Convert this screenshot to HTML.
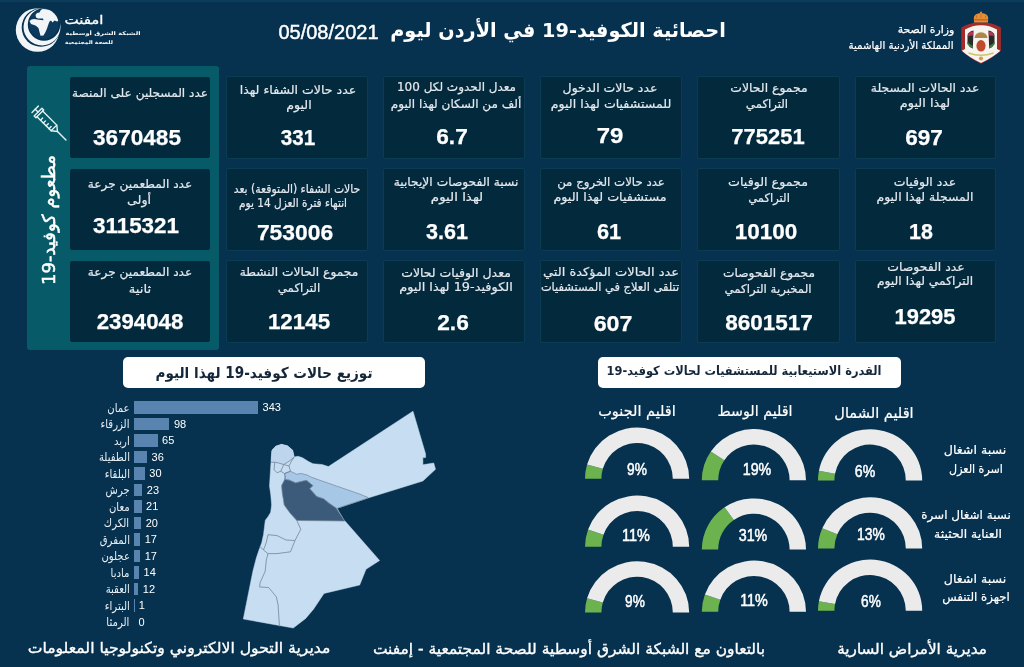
<!DOCTYPE html>
<html lang="ar"><head><meta charset="utf-8"><title>COVID-19 Jordan</title>
<style>
*{margin:0;padding:0;box-sizing:border-box}
html,body{width:1024px;height:667px;overflow:hidden;background:#063250}
body{position:relative;font-family:'DejaVu Sans', sans-serif}
.t{position:absolute;white-space:nowrap;line-height:1;transform-origin:50% 50%}
.card{position:absolute;background:#03293d;border:1px solid #0c3c52;border-radius:2px}
.abs{position:absolute}
</style></head><body>

<div class="abs" style="left:0;top:0;width:1024px;height:2px;background:#0b3c5c"></div>
<div class="abs" style="left:27px;top:66px;width:192px;height:284px;background:#075b68;border-radius:3px"></div>
<div class="card" style="left:69.5px;top:77px;width:140.5px;height:81px;border-color:#03293d"></div>
<div class="card" style="left:225.5px;top:76px;width:142.5px;height:83px"></div>
<div class="card" style="left:383px;top:76px;width:142px;height:83px"></div>
<div class="card" style="left:540px;top:76px;width:141.5px;height:83px"></div>
<div class="card" style="left:697px;top:76px;width:142.5px;height:83px"></div>
<div class="card" style="left:854.5px;top:76px;width:141.5px;height:83px"></div>
<div class="card" style="left:69.5px;top:169px;width:140.5px;height:81px;border-color:#03293d"></div>
<div class="card" style="left:225.5px;top:168px;width:142.5px;height:83px"></div>
<div class="card" style="left:383px;top:168px;width:142px;height:83px"></div>
<div class="card" style="left:540px;top:168px;width:141.5px;height:83px"></div>
<div class="card" style="left:697px;top:168px;width:142.5px;height:83px"></div>
<div class="card" style="left:854.5px;top:168px;width:141.5px;height:83px"></div>
<div class="card" style="left:69.5px;top:261px;width:140.5px;height:81px;border-color:#03293d"></div>
<div class="card" style="left:225.5px;top:260px;width:142.5px;height:83px"></div>
<div class="card" style="left:383px;top:260px;width:142px;height:83px"></div>
<div class="card" style="left:540px;top:260px;width:141.5px;height:83px"></div>
<div class="card" style="left:697px;top:260px;width:142.5px;height:83px"></div>
<div class="card" style="left:854.5px;top:260px;width:141.5px;height:83px"></div>
<svg class="abs" style="left:29px;top:102.6px;overflow:visible" width="40" height="40" viewBox="0 0 40 40" fill="none" stroke="#e6f3f5" stroke-width="1.4" stroke-linecap="round" stroke-linejoin="round">
<g transform="rotate(-45 20 20)">
<line x1="15.5" y1="0.5" x2="24.5" y2="0.5"/><line x1="20" y1="0.5" x2="20" y2="4.5"/>
<path d="M14.5 4.5 H25.5 V7 H14.5 Z"/>
<path d="M16 7 V27 H24 V7"/>
<line x1="16" y1="12" x2="19" y2="12"/><line x1="16" y1="16" x2="19" y2="16"/><line x1="16" y1="20" x2="19" y2="20"/><line x1="16" y1="24" x2="19" y2="24"/>
<path d="M16 27 L20 32 L24 27"/><line x1="20" y1="32" x2="20" y2="44"/>
</g></svg>
<div class="t" id="vert" dir="rtl" style="left:48.5px;top:220px;font-size:18px;font-weight:normal;-webkit-text-stroke:0.5px #fff;color:#fff;transform:translate(-50%,-50%) rotate(-90deg) scaleX(1)">مطعوم كوفيد-19</div>
<div class="abs" style="left:123px;top:357px;width:302px;height:31px;background:#fff;border-radius:5px"></div>
<div class="abs" style="left:598px;top:357px;width:303px;height:31px;background:#fff;border-radius:5px"></div>
<div class="abs" style="left:134px;top:401.00px;width:124.10px;height:12.8px;background:#5a84b0"></div>
<div class="t" dir="rtl" style="right:894.5px;top:401.50px;font-size:12px;color:#e8eef4;font-family:'DejaVu Sans', sans-serif;transform-origin:100% 50%;transform:scaleX(0.84)">عمان</div>
<div class="t" style="left:262.60px;top:402.40px;font-size:11px;color:#ffffff;font-family:'Liberation Sans', 'DejaVu Sans', sans-serif">343</div>
<div class="abs" style="left:134px;top:417.50px;width:35.46px;height:12.8px;background:#5a84b0"></div>
<div class="t" dir="rtl" style="right:894.5px;top:418.00px;font-size:12px;color:#e8eef4;font-family:'DejaVu Sans', sans-serif;transform-origin:100% 50%;transform:scaleX(0.84)">الزرقاء</div>
<div class="t" style="left:173.96px;top:418.90px;font-size:11px;color:#ffffff;font-family:'Liberation Sans', 'DejaVu Sans', sans-serif">98</div>
<div class="abs" style="left:134px;top:434.00px;width:23.52px;height:12.8px;background:#5a84b0"></div>
<div class="t" dir="rtl" style="right:894.5px;top:434.50px;font-size:12px;color:#e8eef4;font-family:'DejaVu Sans', sans-serif;transform-origin:100% 50%;transform:scaleX(0.84)">اربد</div>
<div class="t" style="left:162.02px;top:435.40px;font-size:11px;color:#ffffff;font-family:'Liberation Sans', 'DejaVu Sans', sans-serif">65</div>
<div class="abs" style="left:134px;top:450.50px;width:13.03px;height:12.8px;background:#5a84b0"></div>
<div class="t" dir="rtl" style="right:894.5px;top:451.00px;font-size:12px;color:#e8eef4;font-family:'DejaVu Sans', sans-serif;transform-origin:100% 50%;transform:scaleX(0.84)">الطفيلة</div>
<div class="t" style="left:151.53px;top:451.90px;font-size:11px;color:#ffffff;font-family:'Liberation Sans', 'DejaVu Sans', sans-serif">36</div>
<div class="abs" style="left:134px;top:467.00px;width:10.85px;height:12.8px;background:#5a84b0"></div>
<div class="t" dir="rtl" style="right:894.5px;top:467.50px;font-size:12px;color:#e8eef4;font-family:'DejaVu Sans', sans-serif;transform-origin:100% 50%;transform:scaleX(0.84)">البلقاء</div>
<div class="t" style="left:149.35px;top:468.40px;font-size:11px;color:#ffffff;font-family:'Liberation Sans', 'DejaVu Sans', sans-serif">30</div>
<div class="abs" style="left:134px;top:483.50px;width:8.32px;height:12.8px;background:#5a84b0"></div>
<div class="t" dir="rtl" style="right:894.5px;top:484.00px;font-size:12px;color:#e8eef4;font-family:'DejaVu Sans', sans-serif;transform-origin:100% 50%;transform:scaleX(0.84)">جرش</div>
<div class="t" style="left:146.82px;top:484.90px;font-size:11px;color:#ffffff;font-family:'Liberation Sans', 'DejaVu Sans', sans-serif">23</div>
<div class="abs" style="left:134px;top:500.00px;width:7.60px;height:12.8px;background:#5a84b0"></div>
<div class="t" dir="rtl" style="right:894.5px;top:500.50px;font-size:12px;color:#e8eef4;font-family:'DejaVu Sans', sans-serif;transform-origin:100% 50%;transform:scaleX(0.84)">معان</div>
<div class="t" style="left:146.10px;top:501.40px;font-size:11px;color:#ffffff;font-family:'Liberation Sans', 'DejaVu Sans', sans-serif">21</div>
<div class="abs" style="left:134px;top:516.50px;width:7.24px;height:12.8px;background:#5a84b0"></div>
<div class="t" dir="rtl" style="right:894.5px;top:517.00px;font-size:12px;color:#e8eef4;font-family:'DejaVu Sans', sans-serif;transform-origin:100% 50%;transform:scaleX(0.84)">الكرك</div>
<div class="t" style="left:145.74px;top:517.90px;font-size:11px;color:#ffffff;font-family:'Liberation Sans', 'DejaVu Sans', sans-serif">20</div>
<div class="abs" style="left:134px;top:533.00px;width:6.15px;height:12.8px;background:#5a84b0"></div>
<div class="t" dir="rtl" style="right:894.5px;top:533.50px;font-size:12px;color:#e8eef4;font-family:'DejaVu Sans', sans-serif;transform-origin:100% 50%;transform:scaleX(0.84)">المفرق</div>
<div class="t" style="left:144.65px;top:534.40px;font-size:11px;color:#ffffff;font-family:'Liberation Sans', 'DejaVu Sans', sans-serif">17</div>
<div class="abs" style="left:134px;top:549.50px;width:6.15px;height:12.8px;background:#5a84b0"></div>
<div class="t" dir="rtl" style="right:894.5px;top:550.00px;font-size:12px;color:#e8eef4;font-family:'DejaVu Sans', sans-serif;transform-origin:100% 50%;transform:scaleX(0.84)">عجلون</div>
<div class="t" style="left:144.65px;top:550.90px;font-size:11px;color:#ffffff;font-family:'Liberation Sans', 'DejaVu Sans', sans-serif">17</div>
<div class="abs" style="left:134px;top:566.00px;width:5.07px;height:12.8px;background:#5a84b0"></div>
<div class="t" dir="rtl" style="right:894.5px;top:566.50px;font-size:12px;color:#e8eef4;font-family:'DejaVu Sans', sans-serif;transform-origin:100% 50%;transform:scaleX(0.84)">مادبا</div>
<div class="t" style="left:143.57px;top:567.40px;font-size:11px;color:#ffffff;font-family:'Liberation Sans', 'DejaVu Sans', sans-serif">14</div>
<div class="abs" style="left:134px;top:582.50px;width:4.34px;height:12.8px;background:#5a84b0"></div>
<div class="t" dir="rtl" style="right:894.5px;top:583.00px;font-size:12px;color:#e8eef4;font-family:'DejaVu Sans', sans-serif;transform-origin:100% 50%;transform:scaleX(0.84)">العقبة</div>
<div class="t" style="left:142.84px;top:583.90px;font-size:11px;color:#ffffff;font-family:'Liberation Sans', 'DejaVu Sans', sans-serif">12</div>
<div class="abs" style="left:134px;top:599.00px;width:1.00px;height:12.8px;background:#5a84b0"></div>
<div class="t" dir="rtl" style="right:894.5px;top:599.50px;font-size:12px;color:#e8eef4;font-family:'DejaVu Sans', sans-serif;transform-origin:100% 50%;transform:scaleX(0.84)">البتراء</div>
<div class="t" style="left:138.86px;top:600.40px;font-size:11px;color:#ffffff;font-family:'Liberation Sans', 'DejaVu Sans', sans-serif">1</div>
<div class="t" dir="rtl" style="right:894.5px;top:616.00px;font-size:12px;color:#e8eef4;font-family:'DejaVu Sans', sans-serif;transform-origin:100% 50%;transform:scaleX(0.84)">الرمثا</div>
<div class="t" style="left:138.50px;top:616.90px;font-size:11px;color:#ffffff;font-family:'Liberation Sans', 'DejaVu Sans', sans-serif">0</div>
<svg class="abs" style="left:0;top:0" width="1024" height="667" viewBox="0 0 1024 667">
<polygon points="413,411.2 425.6,454 425.6,457.6 422.9,457.6 422.9,464.8 433.7,463 435.5,469.3 422.9,481 368,498 337,508.3 344,520 345,521 379.6,560.5 366,569.3 359.7,585 324,593.4 313.5,609.2 305.7,618.4 293.3,628 243.3,619 246.1,605 249.5,588.1 252.9,571.2 254.5,565 256.3,558 259,550 261.7,542.8 263.5,534.7 264.4,527.5 265.3,520.3 268,516.7 270.7,512.2 271.6,505 270.8,495 269.5,486 270.25,473.5 271,462.25 271.75,451 272.5,449.5 276,446 281.5,444.25 287.5,445.75 292.75,450.25 294.25,457 298,456.25 302.5,457.75 308.5,461.5 313,463.75 322,464.5 328.4,466.6" fill="#c7ddf1" stroke="#c7ddf1" stroke-width="0.5"/>
<polygon points="271.75,451 272.5,449.5 276,446 281.5,444.25 287.5,445.75 292.75,450.25 294.25,457 289.75,460.75 283.75,464.5 278.5,463 274.75,462.25 271,462.25" fill="#bdd6ee"/>
<polygon points="284.5,473.5 290.5,471.25 296.5,474.25 301,473.5 307,475 311.5,477.25 322,481 360,494.2 368,497.5 368,498 337,508.3 336.25,508.3 328.4,502.8 323.75,498.9 316.7,496.6 309.7,488.75 312.8,485.6 306.6,480.5 303.4,481 295.6,482.9 289.4,480.2 284.7,479.4 285.25,477" fill="#a7c7e6" stroke="#74859a" stroke-width="0.7"/>
<polygon points="284.7,479.4 289.4,480.2 295.6,482.9 303.4,481 306.6,480.5 312.8,485.6 309.7,488.75 316.7,496.6 323.75,498.9 328.4,502.8 336.25,508.3 344,520 345,521 296.8,520.5 290,513 284.2,505 283.1,498 282.3,493.4 281.6,485.6" fill="#3c5a79" stroke="#74859a" stroke-width="0.7"/>
<g fill="none" stroke="#74859a" stroke-width="0.8">
<polyline points="294.25,457 289.75,460.75 283.75,464.5 278.5,463 274.75,462.25 271,462.25"/>
<polyline points="274.75,462.25 274,469.75 277,472.75 280.75,471.25 283.75,464.5"/>
<polyline points="283.75,464.5 289,466 290.5,471.25 284.5,473.5 280.75,471.25"/>
<polyline points="294.25,457 291,462 289,466"/>
<polyline points="284.5,473.5 285.25,477 284.7,479.4"/>
<polyline points="268,534.7 277,535.6 286,540 295,540.5"/>
<polyline points="296.8,520.5 300.8,529.3 295,540.5 290.5,551.8 277,553.6 268,553.6 263.5,550 259.9,546.4"/>
<polyline points="268,534.7 266.2,542.8 263.5,550"/>
<polyline points="268,553.6 267.1,557 266.3,560 265.2,571.2 260.2,582.5 259.6,587 268.6,587.5 272,591.5 276.4,597 278.1,605 279.3,624 279.5,626.5"/>
</g></svg>
<svg class="abs" style="left:0;top:0" width="1024" height="667" viewBox="0 0 1024 667"><path d="M585.00,478.80 A52.1,51.2 0 0 1 587.07,464.52 L602.82,468.81 A35.7,35.8 0 0 0 601.40,478.80 Z" fill="#6cb24e"/><path d="M587.07,464.52 A52.1,51.2 0 0 1 689.20,478.80 L672.80,478.80 A35.7,35.8 0 0 0 602.82,468.81 Z" fill="#ebebeb"/><path d="M701.80,480.30 A52.1,51.2 0 0 1 710.81,451.52 L724.37,460.18 A35.7,35.8 0 0 0 718.20,480.30 Z" fill="#6cb24e"/><path d="M710.81,451.52 A52.1,51.2 0 0 1 806.00,480.30 L789.60,480.30 A35.7,35.8 0 0 0 724.37,460.18 Z" fill="#ebebeb"/><path d="M818.00,480.40 A52.1,51.2 0 0 1 818.92,470.81 L835.03,473.69 A35.7,35.8 0 0 0 834.40,480.40 Z" fill="#6cb24e"/><path d="M818.92,470.81 A52.1,51.2 0 0 1 922.20,480.40 L905.80,480.40 A35.7,35.8 0 0 0 835.03,473.69 Z" fill="#ebebeb"/><path d="M585.00,546.80 A52.1,51.2 0 0 1 588.08,529.46 L603.51,534.67 A35.7,35.8 0 0 0 601.40,546.80 Z" fill="#6cb24e"/><path d="M588.08,529.46 A52.1,51.2 0 0 1 689.20,546.80 L672.80,546.80 A35.7,35.8 0 0 0 603.51,534.67 Z" fill="#ebebeb"/><path d="M701.80,549.60 A52.1,51.2 0 0 1 724.62,507.25 L733.83,519.99 A35.7,35.8 0 0 0 718.20,549.60 Z" fill="#6cb24e"/><path d="M724.62,507.25 A52.1,51.2 0 0 1 806.00,549.60 L789.60,549.60 A35.7,35.8 0 0 0 733.83,519.99 Z" fill="#ebebeb"/><path d="M818.00,548.50 A52.1,51.2 0 0 1 822.28,528.17 L837.34,534.28 A35.7,35.8 0 0 0 834.40,548.50 Z" fill="#6cb24e"/><path d="M822.28,528.17 A52.1,51.2 0 0 1 922.20,548.50 L905.80,548.50 A35.7,35.8 0 0 0 837.34,534.28 Z" fill="#ebebeb"/><path d="M585.00,612.50 A52.1,51.2 0 0 1 587.07,598.22 L602.82,602.51 A35.7,35.8 0 0 0 601.40,612.50 Z" fill="#6cb24e"/><path d="M587.07,598.22 A52.1,51.2 0 0 1 689.20,612.50 L672.80,612.50 A35.7,35.8 0 0 0 602.82,602.51 Z" fill="#ebebeb"/><path d="M701.80,611.80 A52.1,51.2 0 0 1 704.88,594.46 L720.31,599.67 A35.7,35.8 0 0 0 718.20,611.80 Z" fill="#6cb24e"/><path d="M704.88,594.46 A52.1,51.2 0 0 1 806.00,611.80 L789.60,611.80 A35.7,35.8 0 0 0 720.31,599.67 Z" fill="#ebebeb"/><path d="M818.00,610.80 A52.1,51.2 0 0 1 818.92,601.21 L835.03,604.09 A35.7,35.8 0 0 0 834.40,610.80 Z" fill="#6cb24e"/><path d="M818.92,601.21 A52.1,51.2 0 0 1 922.20,610.80 L905.80,610.80 A35.7,35.8 0 0 0 835.03,604.09 Z" fill="#ebebeb"/></svg>
<svg class="abs" style="left:0;top:0" width="70" height="60" viewBox="0 0 70 60">
<defs><clipPath id="gc"><circle cx="43.7" cy="24" r="14.9"/></clipPath></defs>
<circle cx="37.6" cy="30" r="21.8" fill="#f2f5f7"/>
<circle cx="41" cy="27.5" r="19.3" fill="#063250"/>
<circle cx="42" cy="27" r="18.5" fill="#f2f5f7"/>
<circle cx="44" cy="24.5" r="16.2" fill="#063250"/>
<circle cx="43.7" cy="24" r="14.9" fill="#0b3a5e"/>
<path clip-path="url(#gc)" fill="#f2f5f7" d="M42 9 L57 9.5 L60 20 L57 21.5 L54.5 20.5 L52.5 22.5 L51 20.5 L49.5 21.5 L48.5 24 L47 28.5 L45.5 32 L43.5 35.5 L40.5 35.8 L39.5 32 L38.5 28 L35.5 25.5 L31 24 L29.5 21 L31.5 19.5 L34 19 L39 19.8 L43.5 20.2 L43 18.6 L38 18.4 L36 17.5 L35.5 15 L37 13 L39.5 12.5 L40.5 10.5 Z"/>
</svg>
<svg class="abs" style="left:955px;top:8px" width="52" height="60" viewBox="0 0 52 60">
<path d="M6.3 19.5 Q16 14 26 14.6 Q36 14 45.9 19.5 L45.9 42.5 Q38 50 26 55.8 Q14 50 6.3 42.5 Z" fill="#a32c2a"/>
<path d="M10 21.5 Q18 17 26 17.2 Q34 17 42 21.5 L42 41 L45.4 42.7 Q37.5 49.6 26 55 Q14.5 49.6 6.8 42.7 L10 41 Z" fill="#f7f3ee"/>
<path d="M19 14.6 L18.8 10 Q19 5.5 26 5 Q33 5.5 33.2 10 L33 14.6 Z" fill="#e58e36"/><path d="M21.5 10 L21.5 7.5 M26 10 L26 6 M30.5 10 L30.5 7.5" stroke="#c96a2c" stroke-width="0.9"/>
<path d="M19.3 11.8 L32.7 11.8" stroke="#c4532a" stroke-width="1.1"/>
<circle cx="26" cy="4.4" r="1" fill="#e58e36"/>
<path d="M12.5 27 Q14 23 18.5 22.5 L17.8 40.5 Q14 39 12.5 36 Z" fill="#2a2a2a"/>
<path d="M12.5 33.5 Q14.5 37 17.9 38 L17.8 40.5 Q14 39 12.5 36 Z" fill="#3e7b3c"/>
<path d="M39.5 27 Q38 23 33.5 22.5 L34.2 40.5 Q38 39 39.5 36 Z" fill="#2a2a2a"/>
<path d="M39.5 33.5 Q37.5 37 34.1 38 L34.2 40.5 Q38 39 39.5 36 Z" fill="#3e7b3c"/>
<path d="M13.3 25.5 Q15.5 23.3 18.4 23.6 L18.2 27.5 Q15.5 27 13 28.5 Z" fill="#b23656"/>
<path d="M38.7 25.5 Q36.5 23.3 33.6 23.6 L33.8 27.5 Q36.5 27 39 28.5 Z" fill="#b23656"/>
<path d="M19.5 30 Q20 25 26 24.3 Q32 25 32.5 30 Z" fill="#ad8748"/>
<ellipse cx="26" cy="37.8" rx="4.6" ry="5.8" fill="#bf4a2e"/>
<path d="M13.5 45 Q26 49.5 38.5 45" stroke="#cbc46c" stroke-width="1.6" fill="none"/>
<circle cx="26" cy="50.5" r="2.1" fill="#d1a04a"/>
</svg>
<div class="t" id="l000" dir="rtl" style="left:140.00px;top:86.60px;font-size:12px;font-weight:normal;color:#e4e9ee;font-family:'DejaVu Sans', sans-serif;transform:translateX(-50%) scaleX(1.0094);-webkit-text-stroke:0.2px #e4e9ee">عدد المسجلين على المنصة</div>
<div class="t" id="n00" style="left:137.00px;top:127.03px;font-size:22.5px;font-weight:bold;color:#ffffff;font-family:'Liberation Sans', 'DejaVu Sans', sans-serif;transform:translateX(-50%) scaleX(1.0036);-webkit-text-stroke:0.25px #ffffff">3670485</div>
<div class="t" id="l010" dir="rtl" style="left:298.00px;top:83.60px;font-size:12px;font-weight:normal;color:#e4e9ee;font-family:'DejaVu Sans', sans-serif;transform:translateX(-50%) scaleX(1.0468);-webkit-text-stroke:0.2px #e4e9ee">عدد حالات الشفاء لهذا</div>
<div class="t" id="l011" dir="rtl" style="left:298.50px;top:98.50px;font-size:12px;font-weight:normal;color:#e4e9ee;font-family:'DejaVu Sans', sans-serif;transform:translateX(-50%) scaleX(1.0473);-webkit-text-stroke:0.2px #e4e9ee">اليوم</div>
<div class="t" id="n01" style="left:297.50px;top:127.12px;font-size:22.5px;font-weight:bold;color:#ffffff;font-family:'Liberation Sans', 'DejaVu Sans', sans-serif;transform:translateX(-50%) scaleX(0.9175);-webkit-text-stroke:0.25px #ffffff">331</div>
<div class="t" id="l020" dir="rtl" style="left:456.50px;top:81.10px;font-size:12px;font-weight:normal;color:#e4e9ee;font-family:'DejaVu Sans', sans-serif;transform:translateX(-50%) scaleX(1.0000);-webkit-text-stroke:0.2px #e4e9ee">معدل الحدوث لكل 100</div>
<div class="t" id="l021" dir="rtl" style="left:456.00px;top:98.05px;font-size:12px;font-weight:normal;color:#e4e9ee;font-family:'DejaVu Sans', sans-serif;transform:translateX(-50%) scaleX(1.0033);-webkit-text-stroke:0.2px #e4e9ee">ألف من السكان لهذا اليوم</div>
<div class="t" id="n02" style="left:451.50px;top:126.32px;font-size:22.5px;font-weight:bold;color:#ffffff;font-family:'Liberation Sans', 'DejaVu Sans', sans-serif;transform:translateX(-50%) scaleX(1.0073);-webkit-text-stroke:0.25px #ffffff">6.7</div>
<div class="t" id="l030" dir="rtl" style="left:610.00px;top:82.30px;font-size:12px;font-weight:normal;color:#e4e9ee;font-family:'DejaVu Sans', sans-serif;transform:translateX(-50%) scaleX(1.0385);-webkit-text-stroke:0.2px #e4e9ee">عدد حالات الدخول</div>
<div class="t" id="l031" dir="rtl" style="left:610.50px;top:97.60px;font-size:12px;font-weight:normal;color:#e4e9ee;font-family:'DejaVu Sans', sans-serif;transform:translateX(-50%) scaleX(1.0481);-webkit-text-stroke:0.2px #e4e9ee">للمستشفيات لهذا اليوم</div>
<div class="t" id="n03" style="left:610.00px;top:125.32px;font-size:22.5px;font-weight:bold;color:#ffffff;font-family:'Liberation Sans', 'DejaVu Sans', sans-serif;transform:translateX(-50%) scaleX(1.0637);-webkit-text-stroke:0.25px #ffffff">79</div>
<div class="t" id="l040" dir="rtl" style="left:768.50px;top:82.10px;font-size:12px;font-weight:normal;color:#e4e9ee;font-family:'DejaVu Sans', sans-serif;transform:translateX(-50%) scaleX(1.0342);-webkit-text-stroke:0.2px #e4e9ee">مجموع الحالات</div>
<div class="t" id="l041" dir="rtl" style="left:767.38px;top:97.90px;font-size:12px;font-weight:normal;color:#e4e9ee;font-family:'DejaVu Sans', sans-serif;transform:translateX(-50%) scaleX(0.9780);-webkit-text-stroke:0.2px #e4e9ee">التراكمي</div>
<div class="t" id="n04" style="left:767.50px;top:126.32px;font-size:22.5px;font-weight:bold;color:#ffffff;font-family:'Liberation Sans', 'DejaVu Sans', sans-serif;transform:translateX(-50%) scaleX(0.9760);-webkit-text-stroke:0.25px #ffffff">775251</div>
<div class="t" id="l050" dir="rtl" style="left:925.00px;top:82.40px;font-size:12px;font-weight:normal;color:#e4e9ee;font-family:'DejaVu Sans', sans-serif;transform:translateX(-50%) scaleX(1.0254);-webkit-text-stroke:0.2px #e4e9ee">عدد الحالات المسجلة</div>
<div class="t" id="l051" dir="rtl" style="left:925.00px;top:96.90px;font-size:12px;font-weight:normal;color:#e4e9ee;font-family:'DejaVu Sans', sans-serif;transform:translateX(-50%) scaleX(1.0733);-webkit-text-stroke:0.2px #e4e9ee">لهذا اليوم</div>
<div class="t" id="n05" style="left:923.75px;top:126.83px;font-size:22.5px;font-weight:bold;color:#ffffff;font-family:'Liberation Sans', 'DejaVu Sans', sans-serif;transform:translateX(-50%) scaleX(1.0008);-webkit-text-stroke:0.25px #ffffff">697</div>
<div class="t" id="l100" dir="rtl" style="left:139.50px;top:178.30px;font-size:12px;font-weight:normal;color:#e4e9ee;font-family:'DejaVu Sans', sans-serif;transform:translateX(-50%) scaleX(1.0102);-webkit-text-stroke:0.2px #e4e9ee">عدد المطعمين جرعة</div>
<div class="t" id="l101" dir="rtl" style="left:139.00px;top:194.40px;font-size:12px;font-weight:normal;color:#e4e9ee;font-family:'DejaVu Sans', sans-serif;transform:translateX(-50%) scaleX(1.0596);-webkit-text-stroke:0.2px #e4e9ee">أولى</div>
<div class="t" id="n10" style="left:136.37px;top:215.12px;font-size:22.5px;font-weight:bold;color:#ffffff;font-family:'Liberation Sans', 'DejaVu Sans', sans-serif;transform:translateX(-50%) scaleX(0.9958);-webkit-text-stroke:0.25px #ffffff">3115321</div>
<div class="t" id="l110" dir="rtl" style="left:296.50px;top:183.05px;font-size:12px;font-weight:normal;color:#e4e9ee;font-family:'DejaVu Sans', sans-serif;transform:translateX(-50%) scaleX(0.9027);-webkit-text-stroke:0.2px #e4e9ee">حالات الشفاء (المتوقعة) بعد</div>
<div class="t" id="l111" dir="rtl" style="left:293.25px;top:197.10px;font-size:12px;font-weight:normal;color:#e4e9ee;font-family:'DejaVu Sans', sans-serif;transform:translateX(-50%) scaleX(0.8779);-webkit-text-stroke:0.2px #e4e9ee">انتهاء فترة العزل 14 يوم</div>
<div class="t" id="n11" style="left:295.00px;top:221.53px;font-size:22.5px;font-weight:bold;color:#ffffff;font-family:'Liberation Sans', 'DejaVu Sans', sans-serif;transform:translateX(-50%) scaleX(1.0144);-webkit-text-stroke:0.25px #ffffff">753006</div>
<div class="t" id="l120" dir="rtl" style="left:456.00px;top:175.60px;font-size:12px;font-weight:normal;color:#e4e9ee;font-family:'DejaVu Sans', sans-serif;transform:translateX(-50%) scaleX(1.0204);-webkit-text-stroke:0.2px #e4e9ee">نسبة الفحوصات الإيجابية</div>
<div class="t" id="l121" dir="rtl" style="left:457.00px;top:191.30px;font-size:12px;font-weight:normal;color:#e4e9ee;font-family:'DejaVu Sans', sans-serif;transform:translateX(-50%) scaleX(1.1150);-webkit-text-stroke:0.2px #e4e9ee">لهذا اليوم</div>
<div class="t" id="n12" style="left:447.12px;top:221.32px;font-size:22.5px;font-weight:bold;color:#ffffff;font-family:'Liberation Sans', 'DejaVu Sans', sans-serif;transform:translateX(-50%) scaleX(0.9576);-webkit-text-stroke:0.25px #ffffff">3.61</div>
<div class="t" id="l130" dir="rtl" style="left:611.00px;top:175.60px;font-size:12px;font-weight:normal;color:#e4e9ee;font-family:'DejaVu Sans', sans-serif;transform:translateX(-50%) scaleX(0.9798);-webkit-text-stroke:0.2px #e4e9ee">عدد حالات الخروج من</div>
<div class="t" id="l131" dir="rtl" style="left:610.25px;top:191.30px;font-size:12px;font-weight:normal;color:#e4e9ee;font-family:'DejaVu Sans', sans-serif;transform:translateX(-50%) scaleX(1.0597);-webkit-text-stroke:0.2px #e4e9ee">مستشفيات لهذا اليوم</div>
<div class="t" id="n13" style="left:609.25px;top:221.32px;font-size:22.5px;font-weight:bold;color:#ffffff;font-family:'Liberation Sans', 'DejaVu Sans', sans-serif;transform:translateX(-50%) scaleX(0.9636);-webkit-text-stroke:0.25px #ffffff">61</div>
<div class="t" id="l140" dir="rtl" style="left:768.00px;top:176.10px;font-size:12px;font-weight:normal;color:#e4e9ee;font-family:'DejaVu Sans', sans-serif;transform:translateX(-50%) scaleX(1.0541);-webkit-text-stroke:0.2px #e4e9ee">مجموع الوفيات</div>
<div class="t" id="l141" dir="rtl" style="left:768.50px;top:191.80px;font-size:12px;font-weight:normal;color:#e4e9ee;font-family:'DejaVu Sans', sans-serif;transform:translateX(-50%) scaleX(0.9652);-webkit-text-stroke:0.2px #e4e9ee">التراكمي</div>
<div class="t" id="n14" style="left:765.50px;top:221.32px;font-size:22.5px;font-weight:bold;color:#ffffff;font-family:'Liberation Sans', 'DejaVu Sans', sans-serif;transform:translateX(-50%) scaleX(1.0003);-webkit-text-stroke:0.25px #ffffff">10100</div>
<div class="t" id="l150" dir="rtl" style="left:924.87px;top:176.10px;font-size:12px;font-weight:normal;color:#e4e9ee;font-family:'DejaVu Sans', sans-serif;transform:translateX(-50%) scaleX(1.0411);-webkit-text-stroke:0.2px #e4e9ee">عدد الوفيات</div>
<div class="t" id="l151" dir="rtl" style="left:925.25px;top:191.30px;font-size:12px;font-weight:normal;color:#e4e9ee;font-family:'DejaVu Sans', sans-serif;transform:translateX(-50%) scaleX(1.0392);-webkit-text-stroke:0.2px #e4e9ee">المسجلة لهذا اليوم</div>
<div class="t" id="n15" style="left:921.25px;top:221.32px;font-size:22.5px;font-weight:bold;color:#ffffff;font-family:'Liberation Sans', 'DejaVu Sans', sans-serif;transform:translateX(-50%) scaleX(0.9528);-webkit-text-stroke:0.25px #ffffff">18</div>
<div class="t" id="l200" dir="rtl" style="left:139.50px;top:266.10px;font-size:12px;font-weight:normal;color:#e4e9ee;font-family:'DejaVu Sans', sans-serif;transform:translateX(-50%) scaleX(1.0102);-webkit-text-stroke:0.2px #e4e9ee">عدد المطعمين جرعة</div>
<div class="t" id="l201" dir="rtl" style="left:139.50px;top:282.55px;font-size:12px;font-weight:normal;color:#e4e9ee;font-family:'DejaVu Sans', sans-serif;transform:translateX(-50%) scaleX(1.0996);-webkit-text-stroke:0.2px #e4e9ee">ثانية</div>
<div class="t" id="n20" style="left:140.25px;top:311.32px;font-size:22.5px;font-weight:bold;color:#ffffff;font-family:'Liberation Sans', 'DejaVu Sans', sans-serif;transform:translateX(-50%) scaleX(0.9894);-webkit-text-stroke:0.25px #ffffff">2394048</div>
<div class="t" id="l210" dir="rtl" style="left:299.00px;top:266.10px;font-size:12px;font-weight:normal;color:#e4e9ee;font-family:'DejaVu Sans', sans-serif;transform:translateX(-50%) scaleX(1.0193);-webkit-text-stroke:0.2px #e4e9ee">مجموع الحالات النشطة</div>
<div class="t" id="l211" dir="rtl" style="left:298.88px;top:281.80px;font-size:12px;font-weight:normal;color:#e4e9ee;font-family:'DejaVu Sans', sans-serif;transform:translateX(-50%) scaleX(0.9804);-webkit-text-stroke:0.2px #e4e9ee">التراكمي</div>
<div class="t" id="n21" style="left:299.25px;top:311.32px;font-size:22.5px;font-weight:bold;color:#ffffff;font-family:'Liberation Sans', 'DejaVu Sans', sans-serif;transform:translateX(-50%) scaleX(0.9937);-webkit-text-stroke:0.25px #ffffff">12145</div>
<div class="t" id="l220" dir="rtl" style="left:456.25px;top:267.30px;font-size:12px;font-weight:normal;color:#e4e9ee;font-family:'DejaVu Sans', sans-serif;transform:translateX(-50%) scaleX(1.0390);-webkit-text-stroke:0.2px #e4e9ee">معدل الوفيات لحالات</div>
<div class="t" id="l221" dir="rtl" style="left:455.75px;top:281.30px;font-size:12px;font-weight:normal;color:#e4e9ee;font-family:'DejaVu Sans', sans-serif;transform:translateX(-50%) scaleX(1.0732);-webkit-text-stroke:0.2px #e4e9ee">الكوفيد-19 لهذا اليوم</div>
<div class="t" id="n22" style="left:453.38px;top:312.12px;font-size:22.5px;font-weight:bold;color:#ffffff;font-family:'Liberation Sans', 'DejaVu Sans', sans-serif;transform:translateX(-50%) scaleX(1.0097);-webkit-text-stroke:0.25px #ffffff">2.6</div>
<div class="t" id="l230" dir="rtl" style="left:610.88px;top:265.60px;font-size:12px;font-weight:normal;color:#e4e9ee;font-family:'DejaVu Sans', sans-serif;transform:translateX(-50%) scaleX(1.0808);-webkit-text-stroke:0.2px #e4e9ee">عدد الحالات المؤكدة التي</div>
<div class="t" id="l231" dir="rtl" style="left:610.25px;top:280.60px;font-size:12px;font-weight:normal;color:#e4e9ee;font-family:'DejaVu Sans', sans-serif;transform:translateX(-50%) scaleX(0.9501);-webkit-text-stroke:0.2px #e4e9ee">تتلقى العلاج في المستشفيات</div>
<div class="t" id="n23" style="left:613.00px;top:312.52px;font-size:22.5px;font-weight:bold;color:#ffffff;font-family:'Liberation Sans', 'DejaVu Sans', sans-serif;transform:translateX(-50%) scaleX(1.0315);-webkit-text-stroke:0.25px #ffffff">607</div>
<div class="t" id="l240" dir="rtl" style="left:769.00px;top:267.30px;font-size:12px;font-weight:normal;color:#e4e9ee;font-family:'DejaVu Sans', sans-serif;transform:translateX(-50%) scaleX(1.0163);-webkit-text-stroke:0.2px #e4e9ee">مجموع الفحوصات</div>
<div class="t" id="l241" dir="rtl" style="left:767.75px;top:283.10px;font-size:12px;font-weight:normal;color:#e4e9ee;font-family:'DejaVu Sans', sans-serif;transform:translateX(-50%) scaleX(0.9802);-webkit-text-stroke:0.2px #e4e9ee">المخبرية التراكمي</div>
<div class="t" id="n24" style="left:769.25px;top:312.33px;font-size:22.5px;font-weight:bold;color:#ffffff;font-family:'Liberation Sans', 'DejaVu Sans', sans-serif;transform:translateX(-50%) scaleX(1.0012);-webkit-text-stroke:0.25px #ffffff">8601517</div>
<div class="t" id="l250" dir="rtl" style="left:925.75px;top:261.05px;font-size:12px;font-weight:normal;color:#e4e9ee;font-family:'DejaVu Sans', sans-serif;transform:translateX(-50%) scaleX(1.0358);-webkit-text-stroke:0.2px #e4e9ee">عدد الفحوصات</div>
<div class="t" id="l251" dir="rtl" style="left:925.25px;top:275.40px;font-size:12px;font-weight:normal;color:#e4e9ee;font-family:'DejaVu Sans', sans-serif;transform:translateX(-50%) scaleX(1.0246);-webkit-text-stroke:0.2px #e4e9ee">التراكمي لهذا اليوم</div>
<div class="t" id="n25" style="left:925.12px;top:305.92px;font-size:22.5px;font-weight:bold;color:#ffffff;font-family:'Liberation Sans', 'DejaVu Sans', sans-serif;transform:translateX(-50%) scaleX(0.9748);-webkit-text-stroke:0.25px #ffffff">19295</div>
<div class="t" id="title" dir="rtl" style="left:557.75px;top:20.00px;font-size:20px;font-weight:bold;color:#ffffff;font-family:'DejaVu Sans', sans-serif;transform:translateX(-50%) scaleX(0.9630)">احصائية الكوفيد-19 في الأردن ليوم</div>
<div class="t" id="date" style="left:328.50px;top:21.90px;font-size:20px;font-weight:normal;color:#ffffff;font-family:'Liberation Sans', 'DejaVu Sans', sans-serif;transform:translateX(-50%) scaleX(1.0000);-webkit-text-stroke:0.45px #ffffff">05/08/2021</div>
<div class="t" id="wb1" dir="rtl" style="left:264.25px;top:365.55px;font-size:15px;font-weight:bold;color:#14263a;font-family:'DejaVu Sans', sans-serif;transform:translateX(-50%) scaleX(0.9055)">توزيع حالات كوفيد-19 لهذا اليوم</div>
<div class="t" id="wb2" dir="rtl" style="left:743.75px;top:365.43px;font-size:12.5px;font-weight:bold;color:#14263a;font-family:'DejaVu Sans', sans-serif;transform:translateX(-50%) scaleX(0.9138)">القدرة الاستيعابية للمستشفيات لحالات كوفيد-19</div>
<div class="t" id="g_h0" dir="rtl" style="left:637.25px;top:403.55px;font-size:15px;font-weight:normal;color:#ffffff;font-family:'DejaVu Sans', sans-serif;transform:translateX(-50%) scaleX(0.9646);-webkit-text-stroke:0.2px #ffffff">اقليم الجنوب</div>
<div class="t" id="g_h1" dir="rtl" style="left:754.50px;top:404.35px;font-size:15px;font-weight:normal;color:#ffffff;font-family:'DejaVu Sans', sans-serif;transform:translateX(-50%) scaleX(0.9479);-webkit-text-stroke:0.2px #ffffff">اقليم الوسط</div>
<div class="t" id="g_h2" dir="rtl" style="left:874.25px;top:405.95px;font-size:15px;font-weight:normal;color:#ffffff;font-family:'DejaVu Sans', sans-serif;transform:translateX(-50%) scaleX(0.9685);-webkit-text-stroke:0.2px #ffffff">اقليم الشمال</div>
<div class="t" id="rl00" dir="rtl" style="left:975.00px;top:444.10px;font-size:12px;font-weight:normal;color:#ffffff;font-family:'DejaVu Sans', sans-serif;transform:translateX(-50%) scaleX(1.0486);-webkit-text-stroke:0.2px #ffffff">نسبة اشغال</div>
<div class="t" id="rl01" dir="rtl" style="left:976.00px;top:463.10px;font-size:12px;font-weight:normal;color:#ffffff;font-family:'DejaVu Sans', sans-serif;transform:translateX(-50%) scaleX(0.9231);-webkit-text-stroke:0.2px #ffffff">اسرة العزل</div>
<div class="t" id="rl10" dir="rtl" style="left:965.75px;top:509.30px;font-size:12px;font-weight:normal;color:#ffffff;font-family:'DejaVu Sans', sans-serif;transform:translateX(-50%) scaleX(1.0004);-webkit-text-stroke:0.2px #ffffff">نسبة اشغال اسرة</div>
<div class="t" id="rl11" dir="rtl" style="left:968.25px;top:528.00px;font-size:12px;font-weight:normal;color:#ffffff;font-family:'DejaVu Sans', sans-serif;transform:translateX(-50%) scaleX(1.0319);-webkit-text-stroke:0.2px #ffffff">العناية الحثيثة</div>
<div class="t" id="rl20" dir="rtl" style="left:975.00px;top:573.30px;font-size:12px;font-weight:normal;color:#ffffff;font-family:'DejaVu Sans', sans-serif;transform:translateX(-50%) scaleX(1.0486);-webkit-text-stroke:0.2px #ffffff">نسبة اشغال</div>
<div class="t" id="rl21" dir="rtl" style="left:976.25px;top:591.30px;font-size:12px;font-weight:normal;color:#ffffff;font-family:'DejaVu Sans', sans-serif;transform:translateX(-50%) scaleX(0.9857);-webkit-text-stroke:0.2px #ffffff">اجهزة التنفس</div>
<div class="t" id="f1" dir="rtl" style="left:178.75px;top:640.75px;font-size:15px;font-weight:normal;color:#ffffff;font-family:'DejaVu Sans', sans-serif;transform:translateX(-50%) scaleX(1.0427);-webkit-text-stroke:0.35px #ffffff">مديرية التحول الالكتروني وتكنولوجيا المعلومات</div>
<div class="t" id="f2" dir="rtl" style="left:568.50px;top:641.75px;font-size:15px;font-weight:normal;color:#ffffff;font-family:'DejaVu Sans', sans-serif;transform:translateX(-50%) scaleX(1.0299);-webkit-text-stroke:0.35px #ffffff">بالتعاون مع الشبكة الشرق أوسطية للصحة المجتمعية - إمفنت</div>
<div class="t" id="f3" dir="rtl" style="left:912.00px;top:642.25px;font-size:15px;font-weight:normal;color:#ffffff;font-family:'DejaVu Sans', sans-serif;transform:translateX(-50%) scaleX(1.0139);-webkit-text-stroke:0.35px #ffffff">مديرية الأمراض السارية</div>
<div class="t" id="moh1" dir="rtl" style="left:926.00px;top:23.82px;font-size:10.5px;font-weight:normal;color:#ffffff;font-family:'DejaVu Sans', sans-serif;transform:translateX(-50%) scaleX(1.0370);-webkit-text-stroke:0.25px #ffffff">وزارة الصحة</div>
<div class="t" id="moh2" dir="rtl" style="left:901.00px;top:39.63px;font-size:10.5px;font-weight:normal;color:#ffffff;font-family:'DejaVu Sans', sans-serif;transform:translateX(-50%) scaleX(0.9730);-webkit-text-stroke:0.2px #ffffff">المملكة الأردنية الهاشمية</div>
<div class="t" id="emph1" dir="rtl" style="left:84.15px;top:14.20px;font-size:12px;font-weight:normal;color:#ffffff;font-family:'DejaVu Sans', sans-serif;transform:translateX(-50%) scaleX(1.2518);-webkit-text-stroke:0.3px #ffffff">امفنت</div>
<div class="t" id="emph2" dir="rtl" style="left:102.65px;top:30.55px;font-size:5px;font-weight:bold;color:#ffffff;font-family:'DejaVu Sans', sans-serif;transform:translateX(-50%) scaleX(1.3359)">الشبكة الشرق أوسطية</div>
<div class="t" id="emph3" dir="rtl" style="left:88.50px;top:40.00px;font-size:5px;font-weight:bold;color:#ffffff;font-family:'DejaVu Sans', sans-serif;transform:translateX(-50%) scaleX(1.1637)">للصحة المجتمعية</div>
<div class="t" id="gv00" style="left:637.00px;top:461.35px;font-size:16.5px;font-weight:normal;color:#ffffff;font-family:'Liberation Sans', 'DejaVu Sans', sans-serif;transform:translateX(-50%) scaleX(0.8343);-webkit-text-stroke:0.5px #ffffff">9%</div>
<div class="t" id="gv01" style="left:757.00px;top:460.50px;font-size:16.5px;font-weight:normal;color:#ffffff;font-family:'Liberation Sans', 'DejaVu Sans', sans-serif;transform:translateX(-50%) scaleX(0.8652);-webkit-text-stroke:0.5px #ffffff">19%</div>
<div class="t" id="gv02" style="left:864.50px;top:463.15px;font-size:16.5px;font-weight:normal;color:#ffffff;font-family:'Liberation Sans', 'DejaVu Sans', sans-serif;transform:translateX(-50%) scaleX(0.8550);-webkit-text-stroke:0.5px #ffffff">6%</div>
<div class="t" id="gv10" style="left:636.00px;top:527.25px;font-size:16.5px;font-weight:normal;color:#ffffff;font-family:'Liberation Sans', 'DejaVu Sans', sans-serif;transform:translateX(-50%) scaleX(0.8786);-webkit-text-stroke:0.5px #ffffff">11%</div>
<div class="t" id="gv11" style="left:753.00px;top:527.05px;font-size:16.5px;font-weight:normal;color:#ffffff;font-family:'Liberation Sans', 'DejaVu Sans', sans-serif;transform:translateX(-50%) scaleX(0.8651);-webkit-text-stroke:0.5px #ffffff">31%</div>
<div class="t" id="gv12" style="left:871.00px;top:526.10px;font-size:16.5px;font-weight:normal;color:#ffffff;font-family:'Liberation Sans', 'DejaVu Sans', sans-serif;transform:translateX(-50%) scaleX(0.8412);-webkit-text-stroke:0.5px #ffffff">13%</div>
<div class="t" id="gv20" style="left:635.00px;top:593.35px;font-size:16.5px;font-weight:normal;color:#ffffff;font-family:'Liberation Sans', 'DejaVu Sans', sans-serif;transform:translateX(-50%) scaleX(0.8303);-webkit-text-stroke:0.5px #ffffff">9%</div>
<div class="t" id="gv21" style="left:753.50px;top:592.25px;font-size:16.5px;font-weight:normal;color:#ffffff;font-family:'Liberation Sans', 'DejaVu Sans', sans-serif;transform:translateX(-50%) scaleX(0.8700);-webkit-text-stroke:0.5px #ffffff">11%</div>
<div class="t" id="gv22" style="left:871.00px;top:592.50px;font-size:16.5px;font-weight:normal;color:#ffffff;font-family:'Liberation Sans', 'DejaVu Sans', sans-serif;transform:translateX(-50%) scaleX(0.8303);-webkit-text-stroke:0.5px #ffffff">6%</div>
</body></html>
